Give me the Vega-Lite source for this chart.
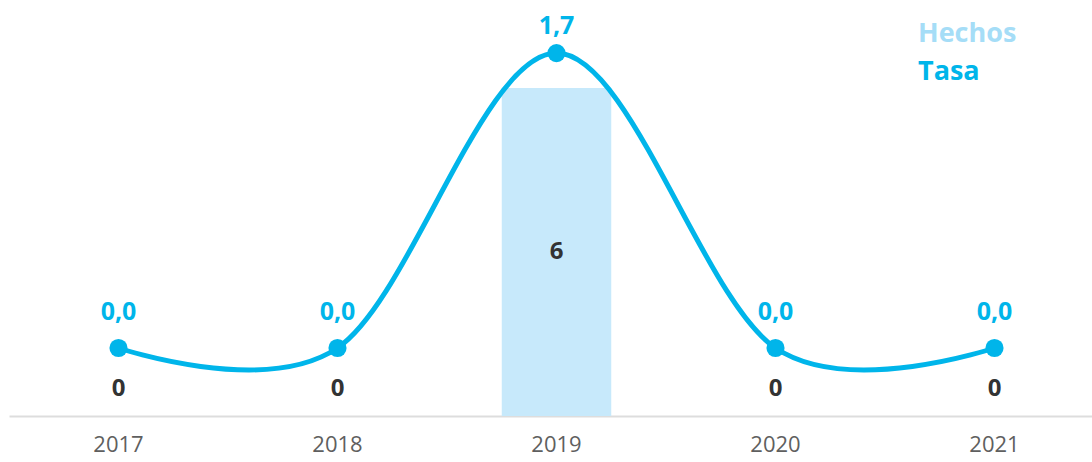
{
  "$schema": "https://vega.github.io/schema/vega-lite/v6.json",
  "width": 1095,
  "height": 416,
  "autosize": "none",
  "padding": {"left": 9, "top": 0, "right": 0, "bottom": 46},
  "background": "white",
  "config": {
    "view": {"stroke": null},
    "font": "Open Sans",
    "locale": {"number": {"decimal": ",", "thousands": ".", "grouping": [3], "currency": ["", ""]}}
  },
  "data": {
    "values": [
      {"anio": "2017", "hechos": 0, "tasa": 0.0},
      {"anio": "2018", "hechos": 0, "tasa": 0.0},
      {"anio": "2019", "hechos": 6, "tasa": 1.7},
      {"anio": "2020", "hechos": 0, "tasa": 0.0},
      {"anio": "2021", "hechos": 0, "tasa": 0.0}
    ]
  },
  "encoding": {
    "x": {
      "field": "anio",
      "type": "ordinal",
      "scale": {"type": "band", "paddingInner": 0.5, "paddingOuter": 0.25},
      "axis": {
        "title": null,
        "labelAngle": 0,
        "ticks": false,
        "domainColor": "#dddddd",
        "domainWidth": 2,
        "labelFontSize": 22,
        "labelColor": "#5f5f5f",
        "labelPadding": 18,
        "labelFont": "Open Sans"
      }
    }
  },
  "layer": [
    {
      "mark": {"type": "bar", "color": "#c7e9fb"},
      "encoding": {
        "y": {"field": "hechos", "type": "quantitative", "scale": {"domain": [0, 7.61], "nice": false, "zero": false}, "axis": null},
        "color": {"datum": "Hechos", "type": "nominal", "scale": {"domain": ["Hechos", "Tasa"], "range": ["#c7e9fb", "#00b5ea"]},
          "legend": {
            "title": null,
            "orient": "none",
            "legendX": 882,
            "legendY": 20,
            "symbolSize": 0,
            "symbolOpacity": 0,
            "symbolStrokeWidth": 0,
            "labelFontSize": 27,
            "labelFontWeight": "bold",
            "labelOffset": 0,
            "rowPadding": 10,
            "labelFont": "Open Sans",
            "encode": {"labels": {"update": {"fill": {"signal": "datum.value === 'Hechos' ? '#a5ddf7' : '#00b5ea'"}}}}
          }
        }
      }
    },
    {
      "transform": [{"calculate": "max(datum.hechos / 2, 0.5)", "as": "lab_y"}],
      "mark": {"type": "text", "fontSize": 24, "fontWeight": "bold", "color": "#333333", "baseline": "middle"},
      "encoding": {
        "y": {"field": "lab_y", "type": "quantitative", "scale": {"domain": [0, 7.61], "nice": false, "zero": false}, "axis": null},
        "text": {"field": "hechos", "type": "quantitative"}
      }
    },
    {
      "mark": {"type": "line", "interpolate": "cardinal", "tension": 0, "strokeWidth": 5},
      "encoding": {
        "y": {"field": "tasa", "type": "quantitative", "scale": {"domain": [-0.392, 2.006], "nice": false, "zero": false}, "axis": null},
        "color": {"datum": "Tasa", "type": "nominal"}
      }
    },
    {
      "mark": {"type": "point", "filled": true, "size": 330, "opacity": 1, "color": "#00b5ea"},
      "encoding": {
        "y": {"field": "tasa", "type": "quantitative", "scale": {"domain": [-0.392, 2.006], "nice": false, "zero": false}, "axis": null}
      }
    },
    {
      "transform": [{"filter": "datum.tasa == 0"}],
      "mark": {"type": "text", "fontSize": 25, "fontWeight": "bold", "color": "#00b5ea", "baseline": "middle", "dy": -36},
      "encoding": {
        "y": {"field": "tasa", "type": "quantitative", "scale": {"domain": [-0.392, 2.006], "nice": false, "zero": false}, "axis": null},
        "text": {"field": "tasa", "type": "quantitative", "format": ".1f"}
      }
    },
    {
      "transform": [{"filter": "datum.tasa > 0"}],
      "mark": {"type": "text", "fontSize": 25, "fontWeight": "bold", "color": "#00b5ea", "baseline": "middle", "dy": -27},
      "encoding": {
        "y": {"field": "tasa", "type": "quantitative", "scale": {"domain": [-0.392, 2.006], "nice": false, "zero": false}, "axis": null},
        "text": {"field": "tasa", "type": "quantitative", "format": ".1f"}
      }
    }
  ],
  "resolve": {"scale": {"y": "independent"}}
}
